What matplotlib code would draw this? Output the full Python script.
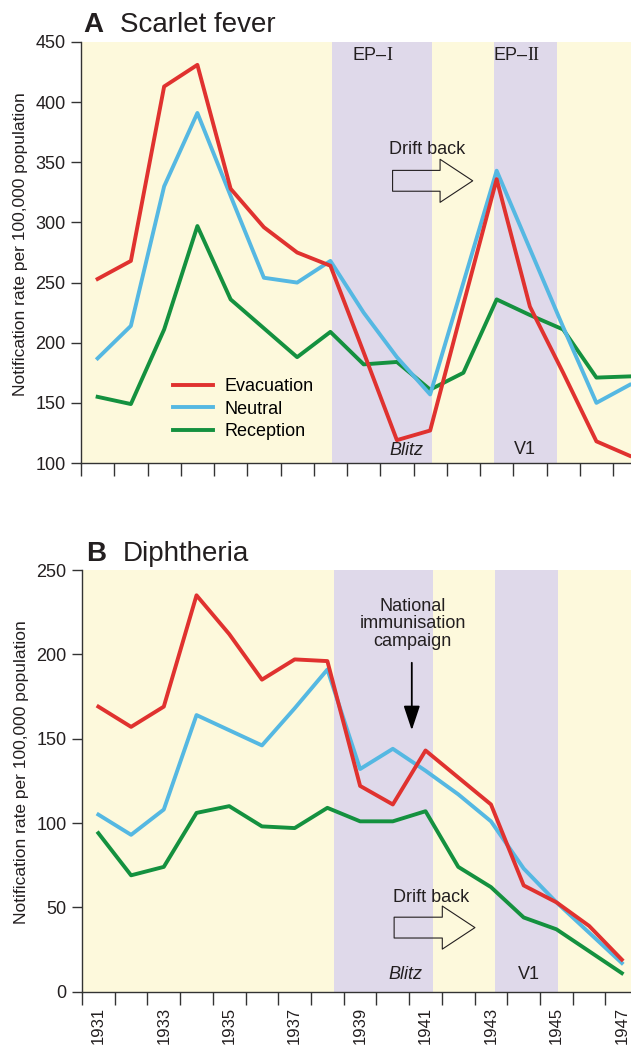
import matplotlib
matplotlib.use("Agg")
import matplotlib.pyplot as plt

plt.rcParams['font.family'] = ['Liberation Sans', 'DejaVu Sans']

years = list(range(1931, 1948))

# A: scarlet fever, notification rate per 100,000
sf_evacuation = [253, 268, 413, 431, 328, 296, 275, 264, 192, 119, 127, 232, 336, 230, 175, 118, 106]
sf_neutral = [187, 214, 330, 391, 322, 254, 250, 268, 225, 188, 157, 250, 343, 278, 213, 150, 165]
sf_reception = [155, 149, 211, 297, 236, 212, 188, 209, 182, 184, 161, 175, 236, 223, 211, 171, 172]

# B: diphtheria
dip_evacuation = [169, 157, 169, 235, 212, 185, 197, 196, 122, 111, 143, 127, 111, 63, 53, 39, 19]
dip_neutral = [105, 93, 108, 164, 155, 146, 168, 191, 132, 144, 131, 117, 101, 73, 53, 35, 17]
dip_reception = [94, 69, 74, 106, 110, 98, 97, 109, 101, 101, 107, 74, 62, 44, 37, 24, 11]

# evacuation periods (EP-I / Blitz, EP-II / V1)
bands_a = [(1938.06, 1941.06), (1942.91, 1944.8)]
bands_b = [(1938.21, 1941.22), (1943.12, 1945.04)]

c_red = '#e0322f'
c_blue = '#55b8e2'
c_green = '#14913f'
c_yellow = '#fdf9dc'
c_purple = '#dfd9ea'
c_text = '#231f20'
c_axis = '#333333'

fig = plt.figure(figsize=(6.31, 10.53), dpi=100)
ax1 = fig.add_axes([81/631, 1-463/1053, 550/631, 421/1053])
ax2 = fig.add_axes([82/631, 1-991.7/1053, 549/631, 421.7/1053])


def style_axes(ax, xlim, ylim, yticks, bands):
    ax.set_facecolor(c_yellow)
    for a, b in bands:
        ax.axvspan(a, b, color=c_purple, lw=0, zorder=0.5)
    ax.set_xlim(*xlim)
    ax.set_ylim(*ylim)
    ax.set_yticks(yticks)
    for s in ['top', 'right']:
        ax.spines[s].set_visible(False)
    for s in ['left', 'bottom']:
        ax.spines[s].set_color(c_axis)
        ax.spines[s].set_linewidth(1.0)
    ax.tick_params(axis='y', direction='out', length=7, width=1.0, pad=4,
                   labelsize=13, colors=c_axis, labelcolor=c_text)
    ax.set_xticks([y + 0.5 for y in range(1930, 1947)], minor=True)
    ax.tick_params(axis='x', which='minor', direction='out', length=9, width=1.0, colors=c_axis)
    ax.set_ylabel('Notification rate per 100,000 population', fontsize=12.5, color=c_text)
    ax.yaxis.set_label_coords(-0.096, 0.52)


def draw_lines(ax, evac, neutral, recep):
    lg, = ax.plot(years, recep, color=c_green, lw=2.8, zorder=3, label='Reception')
    lb, = ax.plot(years, neutral, color=c_blue, lw=2.8, zorder=4, label='Neutral')
    lr, = ax.plot(years, evac, color=c_red, lw=2.8, zorder=5, label='Evacuation')
    return lr, lb, lg


def block_arrow(ax, x0, x1, y):
    ax.annotate('', xy=(x1, y), xytext=(x0, y),
                arrowprops=dict(arrowstyle='simple,head_length=2.35,head_width=3.1,tail_width=1.5',
                                mutation_scale=10, fc='none', ec=c_text, lw=0.8,
                                shrinkA=0, shrinkB=0), zorder=6)


# ---- panel A
style_axes(ax1, (1930.5, 1947.04), (100, 450), range(100, 451, 50), bands_a)
ax1.set_xticks([])
ax1.set_xticks([y + 0.5 for y in range(1930, 1947)], minor=True)
ax1.tick_params(axis='x', which='minor', direction='out', length=9, width=1.0, colors=c_axis)
lr, lb, lg = draw_lines(ax1, sf_evacuation, sf_neutral, sf_reception)
ax1.legend(handles=[lr, lb, lg], loc='center left', bbox_to_anchor=(0.167, 0.128),
           frameon=False, fontsize=13, handlelength=2.25, handletextpad=0.6,
           labelspacing=0.3, borderpad=0, borderaxespad=0)

for xc, num in [(1939.58, 'I'), (1943.82, 'II')]:
    ax1.text(xc + 0.1, 439, 'EP\u2013', ha='right', va='center', fontsize=13, color=c_text)
    ax1.text(xc + 0.1, 439, num, ha='left', va='center', fontsize=13, color=c_text,
             family='Liberation Serif')
ax1.text(1940.3, 110, 'Blitz', ha='center', va='center', fontsize=13, style='italic', color=c_text)
ax1.text(1943.85, 111, 'V1', ha='center', va='center', fontsize=13, color=c_text)
ax1.text(1940.91, 361, 'Drift back', ha='center', va='center', fontsize=13, color=c_text)
block_arrow(ax1, 1939.87, 1942.28, 334.6)

# ---- panel B
style_axes(ax2, (1930.5, 1947.28), (0, 250), range(0, 251, 50), bands_b)
ax2.set_xticks(list(range(1931, 1948, 2)))
ax2.set_xticklabels([str(y) for y in range(1931, 1948, 2)], rotation=90)
ax2.tick_params(axis='x', which='major', length=0, pad=11, labelsize=12, labelcolor=c_text)
draw_lines(ax2, dip_evacuation, dip_neutral, dip_reception)

ax2.text(1940.4, 10, 'Blitz', ha='center', va='center', fontsize=13, style='italic', color=c_text)
ax2.text(1944.17, 10, 'V1', ha='center', va='center', fontsize=13, color=c_text)
ax2.text(1941.18, 56, 'Drift back', ha='center', va='center', fontsize=13, color=c_text)
block_arrow(ax2, 1940.04, 1942.51, 38)
ax2.text(1940.6, 218, 'National\nimmunisation\ncampaign', ha='center', va='center',
         fontsize=13, color=c_text, linespacing=1.05)
ax2.annotate('', xy=(1940.58, 155), xytext=(1940.58, 195),
             arrowprops=dict(arrowstyle='-|>,head_length=0.75,head_width=0.25',
                             mutation_scale=20, fc='black', ec='black', lw=1.3,
                             shrinkA=0, shrinkB=0), zorder=6)

# panel titles
fig.text(83/631, 1-31.7/1053, 'A', fontsize=20, fontweight='bold', color=c_text, va='baseline')
fig.text(120/631, 1-31.7/1053, 'Scarlet fever', fontsize=20, color=c_text, va='baseline')
fig.text(86/631, 1-560.7/1053, 'B', fontsize=20, fontweight='bold', color=c_text, va='baseline')
fig.text(123/631, 1-560.7/1053, 'Diphtheria', fontsize=20, color=c_text, va='baseline')

fig.savefig('out.png', dpi=100)
